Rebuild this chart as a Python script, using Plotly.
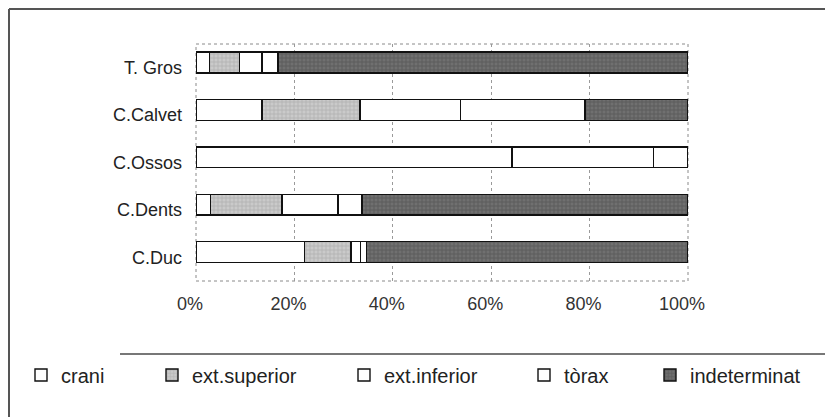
import plotly.graph_objects as go

sites = ["T. Gros", "C.Calvet", "C.Ossos", "C.Dents", "C.Duc"]
crani = [2.7, 13.4, 64.2, 3.0, 22.0]
ext_superior = [6.2, 19.9, 0.0, 14.5, 9.5]
ext_inferior = [4.5, 20.4, 28.8, 11.4, 1.9]
torax = [3.3, 25.4, 7.0, 4.8, 1.2]
indeterminat = [83.3, 20.9, 0.0, 66.3, 65.4]
tick_vals = [0, 20, 40, 60, 80, 100]
tick_text = ["0%", "20%", "40%", "60%", "80%", "100%"]

series = [
    ("crani", crani, "white", None),
    ("ext.superior", ext_superior, "#c6c6c6", dict(shape="+", fgcolor="#8c8c8c", bgcolor="#cacaca", size=4, solidity=0.3)),
    ("ext.inferior", ext_inferior, "white", None),
    ("tòrax", torax, "white", None),
    ("indeterminat", indeterminat, "#636363", dict(shape="+", fgcolor="#3e3e3e", bgcolor="#707070", size=4, solidity=0.35)),
]

# layout geometry (the page adds an 8px body margin, so page coords = figure coords + 8)
OFF = 8
W_FIG, H_FIG = 833, 417
PAGE_L, PAGE_R, PAGE_T, PAGE_B = 196, 688, 44, 281
L = PAGE_L - OFF
T = PAGE_T - OFF
R = W_FIG - (PAGE_R - OFF)
B = H_FIG - (PAGE_B - OFF)
PW = W_FIG - L - R
PH = H_FIG - T - B


def px(x):
    return (x - PAGE_L) / PW


def py(y):
    return (PAGE_B - y) / PH


FONT = "Liberation Sans, Arial, sans-serif"

fig = go.Figure()
legend_text_starts = [63, 194, 386, 566, 692]
for i, (name, vals, color, pattern) in enumerate(series):
    marker = dict(color=color, line=dict(color="#111111", width=1.4))
    if pattern:
        marker["pattern"] = pattern
    lg = "legend" if i == 0 else f"legend{i + 1}"
    fig.add_trace(go.Bar(
        y=sites, x=vals, name=name, orientation="h",
        marker=marker, width=0.44, offset=-0.33,
        legend=lg,
    ))

legend_layouts = {}
for i, xs in enumerate(legend_text_starts):
    key = "legend" if i == 0 else f"legend{i + 1}"
    legend_layouts[key] = dict(
        x=px(xs - 42), y=py(375), xanchor="left", yanchor="middle",
        orientation="h", bgcolor="rgba(0,0,0,0)", itemwidth=30,
        font=dict(family=FONT, size=20, color="#222222"),
    )

fig.update_layout(
    barmode="stack",
    width=W_FIG, height=H_FIG,
    margin=dict(l=L, r=R, t=T, b=B),
    paper_bgcolor="white", plot_bgcolor="white",
    showlegend=True,
    font=dict(family=FONT, size=18, color="#333333"),
    xaxis=dict(
        range=[0, 100], tickvals=tick_vals, ticktext=tick_text,
        showgrid=True, gridcolor="#9a9a9a", griddash="dot", gridwidth=1,
        zeroline=False, showline=False, ticks="", ticklabelstandoff=10,
        ticklabelshift=-6,
        tickfont=dict(family=FONT, size=18, color="#333333"),
    ),
    yaxis=dict(
        categoryorder="array", categoryarray=sites, autorange="reversed",
        showgrid=False, zeroline=False, showline=False, ticks="",
        ticklabelstandoff=13,
        tickfont=dict(family=FONT, size=18, color="#222222"),
    ),
    **legend_layouts,
)

# plot-area (back wall) dotted outline and outer chart frame
fig.add_shape(type="rect", xref="paper", yref="paper", x0=0, x1=1, y0=0, y1=1,
              line=dict(color="#8a8a8a", width=1, dash="dot"), layer="below")
fig.add_shape(type="line", xref="paper", yref="paper", x0=px(9), x1=px(9), y0=py(9), y1=py(425),
              line=dict(color="#555555", width=2))
fig.add_shape(type="line", xref="paper", yref="paper", x0=px(9), x1=px(841), y0=py(9), y1=py(9),
              line=dict(color="#555555", width=2))
fig.add_shape(type="line", xref="paper", yref="paper", x0=px(120), x1=px(841), y0=py(354), y1=py(354),
              line=dict(color="#777777", width=2))

fig.write_html("out.html")
